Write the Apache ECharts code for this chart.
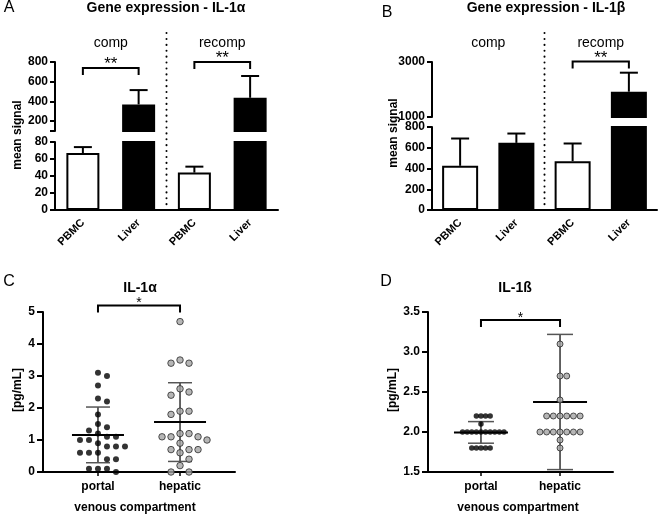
<!DOCTYPE html>
<html><head><meta charset="utf-8">
<script src="https://cdn.jsdelivr.net/npm/echarts@6/dist/echarts.min.js"></script>
<style>html,body{margin:0;padding:0;background:#fff;}#chart{width:661px;height:518px;}</style>
</head><body><div id="chart"></div>
<script>
// ================= DATA =================
const barCategories = ['PBMC', 'Liver', 'PBMC', 'Liver'];
const groupNames = ['comp', 'recomp'];
const groupMembers = [[0, 1], [2, 3]];

// Panel A – Gene expression IL-1α : mean signal and top of error bar
const aMean = [67, 370, 44, 437];
const aErrTop = [74, 515, 51, 658];
const aUpperTicks = [100, 200, 400, 600, 800];
const aUpperLabels = [200, 400, 600, 800];
const aSigPairs = [[0, 1], [2, 3]];
const aSigLevel = [739, 800];
const aSigText = ['**', '**'];

// Panel B – Gene expression IL-1β
const bMean = [426, 647, 471, 1920];
const bErrTop = [689, 737, 641, 2611];
const bUpperTicks = [1000, 3000];
const bUpperLabels = [1000, 3000];
const bSigPairs = [[2, 3]];
const bSigLevel = [3020];
const bSigText = ['**'];

// Panels C / D – venous compartment
const compartments = ['portal', 'hepatic'];
const cPortal = [3.1, 3.0, 2.7, 2.3, 2.2, 1.8, 1.5, 1.4, 1.3, 1.2, 1.1, 1.1, 1.0, 1.0, 0.9, 0.8, 0.8, 0.8, 0.6, 0.6, 0.6, 0.4, 0.4, 0.1, 0.1, 0.1, 0.0];
const cHepatic = [4.7, 3.5, 3.4, 3.4, 2.6, 2.5, 2.4, 1.9, 1.9, 1.8, 1.2, 1.2, 1.1, 1.1, 1.1, 1.0, 0.9, 0.7, 0.7, 0.7, 0.6, 0.4, 0.2, 0.0, 0.0];
const cMean = [1.16, 1.56];
const cSD = [0.87, 1.23];
const cSigLevel = 5.2;
const cSigText = '*';

const dPortal = [2.2, 2.2, 2.2, 2.2, 2.1, 2.0, 2.0, 2.0, 2.0, 2.0, 2.0, 2.0, 2.0, 2.0, 2.0, 1.8, 1.8, 1.8, 1.8, 1.8];
const dHepatic = [3.1, 2.7, 2.7, 2.4, 2.2, 2.2, 2.2, 2.2, 2.2, 2.2, 2.0, 2.0, 2.0, 2.0, 2.0, 2.0, 2.0, 1.9, 1.8];
const dMean = [1.995, 2.375];
const dSD = [0.135, 0.845];
const dSigLevel = 3.40;
const dSigText = '*';

// ================= LAYOUT / STYLE =================
const FONT = '"Liberation Sans", Arial, Helvetica, sans-serif';
const grids = [
  {left: 55,  top: 62,  width: 223, height: 69},   // 0 A upper
  {left: 55,  top: 142, width: 223, height: 68},   // 1 A lower
  {left: 432, top: 62,  width: 225, height: 55},   // 2 B upper
  {left: 432, top: 127, width: 225, height: 83},   // 3 B lower
  {left: 43,  top: 312, width: 192, height: 160},  // 4 C
  {left: 428, top: 312, width: 185, height: 160}   // 5 D
];
const scatterXMin = 0.33, scatterXMax = 2.67;

const tickLabel = {color: '#000', fontFamily: FONT, fontWeight: 'bold', fontSize: 12, margin: 7, formatter: v => String(v)};
function yAxis(g, ext) {
  return Object.assign({
    type: 'value', gridIndex: g,
    axisLine: {show: true, onZero: false, lineStyle: {color: '#000', width: 2}},
    axisTick: {show: true, length: 5, lineStyle: {color: '#000', width: 2}},
    axisLabel: Object.assign({}, tickLabel),
    splitLine: {show: false}
  }, ext);
}

const xAxes = [], yAxes = [], series = [];

// ---------- bar panels ----------
function barStyle(i) {
  return barCategories[i] === 'PBMC'
    ? {color: '#fff', borderColor: '#000', borderWidth: 2}
    : {color: '#000', borderColor: '#000', borderWidth: 2};
}
function errRender(params, api) {
  const a = api.coord([api.value(0), api.value(1)]);
  const b = api.coord([api.value(0), api.value(2)]);
  const cap = 9;
  return {type: 'group', children: [
    {type: 'line', shape: {x1: a[0], y1: a[1], x2: b[0], y2: b[1]}, style: {stroke: '#000', lineWidth: 2}},
    {type: 'line', shape: {x1: b[0] - cap, y1: b[1], x2: b[0] + cap, y2: b[1]}, style: {stroke: '#000', lineWidth: 2}}
  ]};
}
function bracketRender(texts, fontSize) {
  return function (params, api) {
    const p = api.coord([api.value(0), api.value(2)]);
    const q = api.coord([api.value(1), api.value(2)]);
    const leg = 7;
    return {type: 'group', children: [
      {type: 'polyline', shape: {points: [[p[0], p[1] + leg], [p[0], p[1]], [q[0], q[1]], [q[0], q[1] + leg]]},
        style: {stroke: '#000', lineWidth: 2, fill: null}},
      {type: 'text', style: {text: texts[params.dataIndex], x: (p[0] + q[0]) / 2, y: p[1] + 5,
        align: 'center', verticalAlign: 'bottom', fontSize: fontSize, fontFamily: FONT, fill: '#000'}}
    ]};
  };
}

function addBarPanel(gUp, gLow, mean, errTop, upMin, upMax, upTicks, upLabels, lowMax, lowInterval, barW, sigPairs, sigLevel, sigText) {
  xAxes.push({type: 'category', gridIndex: gUp, data: barCategories, show: false});
  xAxes.push({type: 'category', gridIndex: gLow, data: barCategories,
    axisLine: {show: true, lineStyle: {color: '#000', width: 2}},
    axisTick: {show: false},
    axisLabel: {rotate: 45, color: '#000', fontFamily: FONT, fontWeight: 'bold', fontSize: 11, margin: 11, interval: 0}});
  yAxes.push(yAxis(gUp, {min: upMin, max: upMax,
    axisTick: {show: true, length: 5, customValues: upTicks, lineStyle: {color: '#000', width: 2}},
    axisLabel: Object.assign({}, tickLabel, {customValues: upLabels})}));
  yAxes.push(yAxis(gLow, {min: 0, max: lowMax, interval: lowInterval}));

  series.push({type: 'bar', xAxisIndex: gLow, yAxisIndex: gLow, barWidth: barW, clip: true, silent: true,
    data: mean.map((v, i) => ({value: v, itemStyle: barStyle(i)}))});
  series.push({type: 'bar', xAxisIndex: gUp, yAxisIndex: gUp, barWidth: barW, clip: true, silent: true,
    data: mean.map((v, i) => ({value: v > upMin ? v : '-', itemStyle: barStyle(i)}))});

  [[gLow, -Infinity, lowMax], [gUp, upMin, Infinity]].forEach(([g, lo, hi]) => {
    const d = mean.map((m, i) => [i, m, errTop[i]]).filter(r => r[1] >= lo && r[2] <= hi);
    series.push({type: 'custom', xAxisIndex: g, yAxisIndex: g, silent: true, z: 3, data: d, renderItem: errRender});
  });

  series.push({type: 'custom', xAxisIndex: gUp, yAxisIndex: gUp, silent: true, z: 4,
    data: sigPairs.map((p, k) => [p[0], p[1], sigLevel[k]]), renderItem: bracketRender(sigText, 17)});

  series.push({type: 'custom', xAxisIndex: gUp, yAxisIndex: gUp, silent: true, z: 4,
    data: groupMembers.map(m => [m[0], m[1]]),
    renderItem: function (params, api) {
      const p = api.coord([api.value(0), upMax]);
      const q = api.coord([api.value(1), upMax]);
      return {type: 'text', style: {text: groupNames[params.dataIndex], x: (p[0] + q[0]) / 2, y: params.coordSys.y - 19,
        align: 'center', verticalAlign: 'middle', fontSize: 14, fontFamily: FONT, fill: '#000'}};
    }});

  series.push({type: 'custom', xAxisIndex: gLow, yAxisIndex: gLow, silent: true, z: 2,
    data: [[groupMembers[0][1], groupMembers[1][0]]],
    renderItem: function (params, api) {
      const p = api.coord([api.value(0), 0]);
      const q = api.coord([api.value(1), 0]);
      const x = (p[0] + q[0]) / 2;
      return {type: 'line', shape: {x1: x, y1: 33, x2: x, y2: params.coordSys.y + params.coordSys.height - 3},
        style: {stroke: '#000', lineWidth: 2, lineDash: [0.1, 5.8], lineCap: 'round'}};
    }});
}

addBarPanel(0, 1, aMean, aErrTop, 100, 800, aUpperTicks, aUpperLabels, 80, 20, 33, aSigPairs, aSigLevel, aSigText);
addBarPanel(2, 3, bMean, bErrTop, 1000, 3000, bUpperTicks, bUpperLabels, 800, 200, 36, bSigPairs, bSigLevel, bSigText);

// ---------- scatter panels ----------
// greedy beeswarm: each dot takes the nearest free horizontal slot
function swarm(values, center, g, yMin, yMax, minDistPx) {
  const pxPerY = grids[g].height / (yMax - yMin);
  const pxPerX = grids[g].width / (scatterXMax - scatterXMin);
  const half = minDistPx / 2;
  const sorted = values.slice().sort((a, b) => b - a);
  const placed = [];
  sorted.forEach(v => {
    const py = v * pxPerY;
    for (let k = 0; k < 60; k++) {
      const off = (k === 0 ? 0 : (k % 2 === 1 ? 1 : -1) * Math.ceil(k / 2)) * half;
      const ok = placed.every(p => {
        const dx = p.x - off, dy = p.y - py;
        return dx * dx + dy * dy >= minDistPx * minDistPx - 0.01;
      });
      if (ok) { placed.push({x: off, y: py, v: v}); break; }
    }
  });
  return placed.map(p => [center + p.x / pxPerX, p.v]);
}

function meanSdRender(meanHalf, capHalf) {
  return function (params, api) {
    const x = api.value(0), m = api.value(1), s = api.value(2);
    const c = api.coord([x, m]), t = api.coord([x, m + s]), b = api.coord([x, m - s]);
    return {type: 'group', children: [
      {type: 'line', shape: {x1: t[0], y1: t[1], x2: b[0], y2: b[1]}, style: {stroke: '#111', lineWidth: 1.3}},
      {type: 'line', shape: {x1: t[0] - capHalf, y1: t[1], x2: t[0] + capHalf, y2: t[1]}, style: {stroke: '#555', lineWidth: 1.5}},
      {type: 'line', shape: {x1: b[0] - capHalf, y1: b[1], x2: b[0] + capHalf, y2: b[1]}, style: {stroke: '#555', lineWidth: 1.5}},
      {type: 'line', shape: {x1: c[0] - meanHalf, y1: c[1], x2: c[0] + meanHalf, y2: c[1]}, style: {stroke: '#000', lineWidth: 2}}
    ]};
  };
}

function addScatterPanel(g, yMin, yMax, yInterval, labelFmt, groups, means, sds, sigLevel, sigText, dists, sizes, meanHalf, capHalf) {
  xAxes.push({type: 'value', gridIndex: g, min: scatterXMin, max: scatterXMax,
    axisLine: {show: true, onZero: false, lineStyle: {color: '#000', width: 2}},
    axisTick: {show: true, length: 4, customValues: [1, 2], lineStyle: {color: '#000', width: 1.5}},
    axisLabel: {customValues: [1, 2], formatter: v => compartments[Math.round(v) - 1],
      color: '#000', fontFamily: FONT, fontWeight: 'bold', fontSize: 12, margin: 9},
    splitLine: {show: false}});
  yAxes.push(yAxis(g, {min: yMin, max: yMax, interval: yInterval,
    axisTick: {show: true, length: 6, lineStyle: {color: '#000', width: 2}},
    axisLabel: Object.assign({}, tickLabel, {formatter: labelFmt, margin: 8})}));

  series.push({type: 'custom', xAxisIndex: g, yAxisIndex: g, silent: true, z: 2,
    data: means.map((m, i) => [i + 1, m, sds[i]]), renderItem: meanSdRender(meanHalf, capHalf)});

  const colors = [{color: '#000', borderColor: '#000', borderWidth: 0},
                  {color: '#a4a4a4', borderColor: '#2a2a2a', borderWidth: 1}];
  groups.forEach((vals, i) => {
    series.push({type: 'scatter', xAxisIndex: g, yAxisIndex: g, silent: true, z: 3,
      symbol: 'circle', symbolSize: sizes[i], itemStyle: colors[i],
      data: swarm(vals, i + 1, g, yMin, yMax, dists[i])});
  });

  series.push({type: 'custom', xAxisIndex: g, yAxisIndex: g, silent: true, z: 4,
    data: [[1, 2, sigLevel]], renderItem: bracketRender([sigText], 14)});
}

addScatterPanel(4, 0, 5, 1, v => String(v), [cPortal, cHepatic], cMean, cSD, cSigLevel, cSigText, [9, 9], [6, 6.5], 26, 12);
addScatterPanel(5, 1.5, 3.5, 0.5, v => v.toFixed(1), [dPortal, dHepatic], dMean, dSD, dSigLevel, dSigText, [4.6, 6.7], [5.5, 6], 27, 13);

// ---------- static texts ----------
function txt(x, y, text, size, bold, opts) {
  return Object.assign({type: 'text', x: x, y: y, silent: true,
    style: {text: text, fontSize: size, fontWeight: bold ? 'bold' : 'normal', fontFamily: FONT, fill: '#000',
      align: 'center', verticalAlign: 'middle'}}, opts || {});
}
const graphic = [
  txt(9, 8, 'A', 16, false),
  txt(166, 8, 'Gene expression - IL-1α', 14, true),
  txt(387, 13, 'B', 16, false),
  txt(546, 8, 'Gene expression - IL-1β', 14, true),
  txt(9, 282, 'C', 16, false),
  txt(140, 288, 'IL-1α', 14, true),
  txt(386, 282, 'D', 16, false),
  txt(515, 288, 'IL-1ß', 14, true),
  txt(18, 135, 'mean signal', 12, true, {rotation: Math.PI / 2}),
  txt(394, 133, 'mean signal', 12, true, {rotation: Math.PI / 2}),
  txt(18, 390, '[pg/mL]', 12, true, {rotation: Math.PI / 2}),
  txt(393, 390, '[pg/mL]', 12, true, {rotation: Math.PI / 2}),
  txt(135, 508, 'venous compartment', 12, true),
  txt(518, 508, 'venous compartment', 12, true)
];

const chart = echarts.init(document.getElementById('chart'), null, {renderer: 'canvas'});
chart.setOption({
  animation: false,
  backgroundColor: '#fff',
  grid: grids.map(g => ({left: g.left, top: g.top, width: g.width, height: g.height, containLabel: false})),
  xAxis: xAxes,
  yAxis: yAxes,
  series: series,
  graphic: graphic
});
</script></body></html>
